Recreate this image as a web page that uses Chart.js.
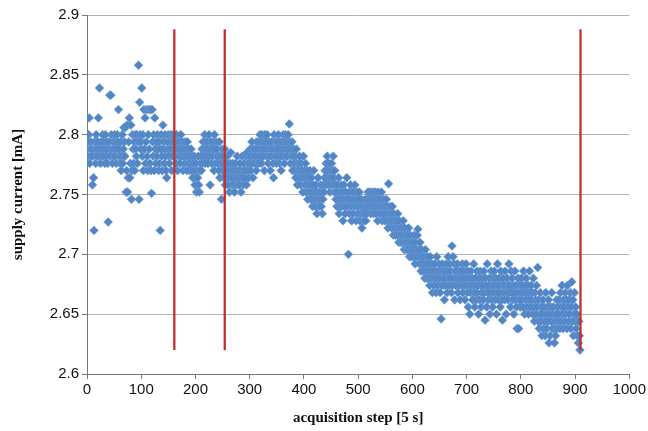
<!DOCTYPE html>
<html>
<head>
<meta charset="utf-8">
<script src="https://cdn.jsdelivr.net/npm/chart.js@4.4.1/dist/chart.umd.min.js"></script>
<style>
  html, body { margin: 0; padding: 0; background: #fff; }
</style>
</head>
<body>
<canvas id="myChart" width="648" height="431"></canvas>
<script>
// supply current [mA], one value per acquisition step (0, 1, 2 ...)
const current = [
    2.788, 2.782, 2.794, 2.800, 2.814, 2.776, 2.788, 2.794, 2.782, 2.788, // 0
    2.758, 2.782, 2.764, 2.720, 2.794, 2.788, 2.776, 2.800, 2.782, 2.788, // 10
    2.794, 2.814, 2.782, 2.839, 2.788, 2.776, 2.794, 2.782, 2.788, 2.800, // 20
    2.782, 2.794, 2.788, 2.776, 2.800, 2.788, 2.782, 2.794, 2.776, 2.727, // 30
    2.788, 2.794, 2.833, 2.782, 2.833, 2.800, 2.788, 2.776, 2.794, 2.782, // 40
    2.788, 2.800, 2.782, 2.794, 2.776, 2.788, 2.800, 2.794, 2.821, 2.782, // 50
    2.788, 2.776, 2.794, 2.770, 2.782, 2.800, 2.776, 2.788, 2.806, 2.794, // 60
    2.782, 2.806, 2.752, 2.770, 2.808, 2.752, 2.764, 2.794, 2.814, 2.764, // 70
    2.776, 2.808, 2.746, 2.770, 2.800, 2.788, 2.776, 2.794, 2.770, 2.800, // 80
    2.788, 2.782, 2.800, 2.776, 2.794, 2.858, 2.746, 2.827, 2.800, 2.788, // 90
    2.794, 2.839, 2.782, 2.800, 2.770, 2.821, 2.788, 2.814, 2.776, 2.794, // 100
    2.821, 2.782, 2.770, 2.800, 2.821, 2.788, 2.776, 2.821, 2.770, 2.751, // 110
    2.821, 2.794, 2.782, 2.800, 2.770, 2.814, 2.788, 2.776, 2.794, 2.782, // 120
    2.800, 2.788, 2.770, 2.794, 2.776, 2.720, 2.788, 2.800, 2.782, 2.770, // 130
    2.808, 2.794, 2.788, 2.776, 2.800, 2.782, 2.770, 2.764, 2.794, 2.788, // 140
    2.800, 2.782, 2.776, 2.794, 2.788, 2.800, 2.770, 2.782, 2.794, 2.800, // 150
    2.788, 2.800, 2.782, 2.794, 2.776, 2.800, 2.788, 2.770, 2.794, 2.782, // 160
    2.794, 2.788, 2.776, 2.800, 2.782, 2.788, 2.794, 2.770, 2.782, 2.788, // 170
    2.776, 2.794, 2.782, 2.788, 2.770, 2.794, 2.782, 2.776, 2.788, 2.770, // 180
    2.782, 2.776, 2.788, 2.770, 2.782, 2.764, 2.776, 2.770, 2.782, 2.758, // 190
    2.764, 2.776, 2.752, 2.770, 2.764, 2.782, 2.758, 2.752, 2.770, 2.776, // 200
    2.782, 2.770, 2.788, 2.776, 2.794, 2.782, 2.788, 2.800, 2.776, 2.794, // 210
    2.788, 2.782, 2.794, 2.776, 2.788, 2.800, 2.782, 2.758, 2.794, 2.788, // 220
    2.776, 2.794, 2.782, 2.788, 2.770, 2.800, 2.788, 2.776, 2.794, 2.782, // 230
    2.788, 2.776, 2.782, 2.770, 2.794, 2.764, 2.782, 2.776, 2.746, 2.788, // 240
    2.770, 2.782, 2.764, 2.776, 2.788, 2.758, 2.770, 2.764, 2.776, 2.782, // 250
    2.758, 2.770, 2.764, 2.752, 2.776, 2.785, 2.764, 2.770, 2.758, 2.776, // 260
    2.764, 2.770, 2.752, 2.758, 2.776, 2.764, 2.770, 2.782, 2.758, 2.764, // 270
    2.770, 2.758, 2.776, 2.764, 2.752, 2.770, 2.782, 2.764, 2.758, 2.770, // 280
    2.776, 2.764, 2.770, 2.782, 2.758, 2.785, 2.770, 2.776, 2.764, 2.782, // 290
    2.776, 2.788, 2.770, 2.782, 2.794, 2.776, 2.764, 2.788, 2.782, 2.776, // 300
    2.788, 2.782, 2.770, 2.794, 2.776, 2.788, 2.782, 2.776, 2.794, 2.800, // 310
    2.782, 2.788, 2.776, 2.800, 2.794, 2.782, 2.788, 2.770, 2.800, 2.794, // 320
    2.788, 2.782, 2.800, 2.794, 2.776, 2.788, 2.782, 2.794, 2.770, 2.788, // 330
    2.782, 2.794, 2.788, 2.776, 2.764, 2.800, 2.788, 2.782, 2.794, 2.776, // 340
    2.788, 2.794, 2.782, 2.800, 2.788, 2.776, 2.794, 2.782, 2.770, 2.788, // 350
    2.794, 2.782, 2.800, 2.788, 2.776, 2.794, 2.800, 2.782, 2.788, 2.794, // 360
    2.782, 2.800, 2.788, 2.809, 2.794, 2.776, 2.788, 2.782, 2.794, 2.770, // 370
    2.782, 2.788, 2.776, 2.770, 2.782, 2.764, 2.788, 2.776, 2.758, 2.770, // 380
    2.776, 2.764, 2.782, 2.770, 2.758, 2.776, 2.764, 2.770, 2.752, 2.782, // 390
    2.764, 2.770, 2.758, 2.776, 2.752, 2.764, 2.770, 2.746, 2.758, 2.764, // 400
    2.752, 2.770, 2.758, 2.746, 2.764, 2.752, 2.740, 2.758, 2.770, 2.746, // 410
    2.752, 2.740, 2.758, 2.746, 2.734, 2.752, 2.764, 2.746, 2.740, 2.752, // 420
    2.746, 2.758, 2.740, 2.752, 2.734, 2.746, 2.758, 2.752, 2.764, 2.770, // 430
    2.758, 2.776, 2.764, 2.782, 2.770, 2.758, 2.776, 2.764, 2.752, 2.770, // 440
    2.764, 2.776, 2.758, 2.770, 2.782, 2.764, 2.752, 2.770, 2.758, 2.746, // 450
    2.752, 2.740, 2.758, 2.746, 2.764, 2.734, 2.752, 2.740, 2.746, 2.758, // 460
    2.740, 2.752, 2.728, 2.746, 2.758, 2.740, 2.734, 2.752, 2.746, 2.764, // 470
    2.740, 2.746, 2.700, 2.752, 2.734, 2.746, 2.758, 2.740, 2.728, 2.752, // 480
    2.746, 2.734, 2.752, 2.740, 2.758, 2.746, 2.728, 2.740, 2.752, 2.734, // 490
    2.746, 2.740, 2.752, 2.728, 2.740, 2.734, 2.746, 2.722, 2.740, 2.734, // 500
    2.728, 2.740, 2.734, 2.746, 2.728, 2.740, 2.734, 2.746, 2.752, 2.740, // 510
    2.746, 2.752, 2.740, 2.734, 2.746, 2.752, 2.740, 2.746, 2.734, 2.752, // 520
    2.740, 2.746, 2.752, 2.734, 2.740, 2.746, 2.728, 2.752, 2.740, 2.746, // 530
    2.734, 2.746, 2.740, 2.752, 2.728, 2.740, 2.734, 2.746, 2.740, 2.728, // 540
    2.740, 2.734, 2.746, 2.728, 2.740, 2.722, 2.759, 2.734, 2.728, 2.740, // 550
    2.728, 2.734, 2.722, 2.740, 2.728, 2.716, 2.734, 2.722, 2.728, 2.716, // 560
    2.722, 2.728, 2.716, 2.734, 2.722, 2.710, 2.728, 2.716, 2.722, 2.710, // 570
    2.716, 2.722, 2.710, 2.728, 2.716, 2.704, 2.722, 2.710, 2.716, 2.704, // 580
    2.710, 2.716, 2.704, 2.722, 2.710, 2.698, 2.716, 2.704, 2.710, 2.698, // 590
    2.704, 2.710, 2.698, 2.716, 2.704, 2.692, 2.710, 2.698, 2.704, 2.716, // 600
    2.721, 2.698, 2.704, 2.692, 2.710, 2.698, 2.686, 2.704, 2.692, 2.698, // 610
    2.686, 2.698, 2.692, 2.680, 2.704, 2.686, 2.692, 2.680, 2.698, 2.686, // 620
    2.692, 2.680, 2.674, 2.698, 2.686, 2.680, 2.692, 2.668, 2.686, 2.680, // 630
    2.674, 2.692, 2.680, 2.686, 2.668, 2.698, 2.680, 2.674, 2.686, 2.692, // 640
    2.680, 2.668, 2.686, 2.646, 2.674, 2.692, 2.680, 2.686, 2.674, 2.662, // 650
    2.686, 2.680, 2.692, 2.674, 2.668, 2.686, 2.698, 2.680, 2.674, 2.692, // 660
    2.680, 2.686, 2.668, 2.707, 2.674, 2.698, 2.680, 2.692, 2.662, 2.686, // 670
    2.674, 2.686, 2.680, 2.692, 2.668, 2.680, 2.674, 2.686, 2.662, 2.680, // 680
    2.686, 2.674, 2.692, 2.668, 2.680, 2.686, 2.674, 2.662, 2.680, 2.692, // 690
    2.674, 2.668, 2.686, 2.656, 2.680, 2.674, 2.650, 2.668, 2.686, 2.674, // 700
    2.680, 2.662, 2.674, 2.692, 2.668, 2.656, 2.680, 2.674, 2.662, 2.686, // 710
    2.668, 2.674, 2.650, 2.680, 2.662, 2.686, 2.674, 2.656, 2.668, 2.680, // 720
    2.674, 2.662, 2.686, 2.668, 2.645, 2.680, 2.674, 2.656, 2.692, 2.668, // 730
    2.662, 2.674, 2.680, 2.650, 2.668, 2.686, 2.662, 2.674, 2.656, 2.680, // 740
    2.668, 2.686, 2.674, 2.662, 2.680, 2.650, 2.668, 2.692, 2.674, 2.662, // 750
    2.680, 2.668, 2.656, 2.686, 2.674, 2.662, 2.645, 2.680, 2.668, 2.674, // 760
    2.662, 2.686, 2.674, 2.650, 2.668, 2.680, 2.662, 2.674, 2.692, 2.668, // 770
    2.674, 2.656, 2.686, 2.668, 2.680, 2.662, 2.674, 2.650, 2.668, 2.686, // 780
    2.662, 2.674, 2.656, 2.638, 2.668, 2.680, 2.638, 2.662, 2.674, 2.656, // 790
    2.668, 2.680, 2.662, 2.674, 2.656, 2.686, 2.668, 2.650, 2.674, 2.662, // 800
    2.680, 2.656, 2.668, 2.674, 2.650, 2.662, 2.686, 2.668, 2.656, 2.674, // 810
    2.662, 2.668, 2.650, 2.680, 2.656, 2.644, 2.668, 2.662, 2.650, 2.674, // 820
    2.656, 2.689, 2.644, 2.662, 2.638, 2.650, 2.668, 2.644, 2.656, 2.632, // 830
    2.650, 2.662, 2.638, 2.656, 2.644, 2.632, 2.668, 2.650, 2.638, 2.656, // 840
    2.644, 2.662, 2.626, 2.650, 2.632, 2.656, 2.644, 2.668, 2.638, 2.650, // 850
    2.656, 2.638, 2.626, 2.644, 2.632, 2.650, 2.662, 2.638, 2.656, 2.644, // 860
    2.650, 2.662, 2.638, 2.668, 2.644, 2.656, 2.674, 2.650, 2.638, 2.662, // 870
    2.656, 2.644, 2.668, 2.650, 2.662, 2.638, 2.674, 2.656, 2.644, 2.662, // 880
    2.650, 2.668, 2.638, 2.656, 2.677, 2.644, 2.662, 2.632, 2.650, 2.668, // 890
    2.644, 2.656, 2.638, 2.650, 2.632, 2.644, 2.626, 2.644, 2.632, 2.620  // 900
];

// red vertical markers (acquisition step), drawn from bottom to top value
const markerSteps = [161, 254, 910];
const markerBottom = 2.62;
const markerTop = 2.888;

const points = current.map((v, i) => ({x: i, y: v}));

let datasets = [{
    type: "scatter",
    data: points,
    pointStyle: "rectRot",
    pointRadius: 4.4,
    backgroundColor: "#5086c6",
    borderColor: "#6f9bd3",
    borderWidth: 0.6,
    order: 2
}];
for (let i = 0; i < markerSteps.length; i++) {
    datasets.push({
        type: "line",
        data: [{x: markerSteps[i], y: markerBottom}, {x: markerSteps[i], y: markerTop}],
        borderColor: "#c4302b",
        borderWidth: 2.3,
        pointRadius: 0,
        fill: false,
        order: 1
    });
}

const tickFont = {family: "'Liberation Sans', Arial, sans-serif", size: 15};
const titleFont = {family: "'Liberation Serif', 'Times New Roman', serif", size: 15, weight: "bold"};

new Chart("myChart", {
    type: "scatter",
    data: {datasets: datasets},
    options: {
        responsive: false,
        animation: false,
        devicePixelRatio: 1,
        layout: {padding: {top: 15, right: 16, bottom: 0, left: 0}},
        plugins: {legend: {display: false}, tooltip: {enabled: false}},
        scales: {
            x: {
                type: "linear",
                min: 0,
                max: 1000,
                ticks: {stepSize: 100, color: "#111", font: tickFont, padding: 2, maxRotation: 0,
                    callback: (v) => String(v)},
                grid: {drawOnChartArea: false, drawTicks: true, tickLength: 5, tickColor: "#777"},
                border: {color: "#777", width: 1},
                title: {display: true, text: "acquisition step [5 s]", color: "#111", font: titleFont, padding: {top: 0, bottom: 4}},
                afterFit: (scale) => { scale.height = 57; }
            },
            y: {
                type: "linear",
                min: 2.6,
                max: 2.9,
                ticks: {
                    stepSize: 0.05,
                    color: "#111",
                    font: tickFont,
                    padding: 3,
                    callback: (v) => String(Math.round(v * 100) / 100)
                },
                grid: {color: "#b2b2b2", lineWidth: 1, tickLength: 5, tickColor: "#777"},
                border: {color: "#777", width: 1},
                title: {display: true, text: "supply current [mA]", color: "#111", font: titleFont, padding: {top: 9, bottom: 0}},
                afterFit: (scale) => { scale.width = 87; }
            }
        }
    }
});
</script>
</body>
</html>
